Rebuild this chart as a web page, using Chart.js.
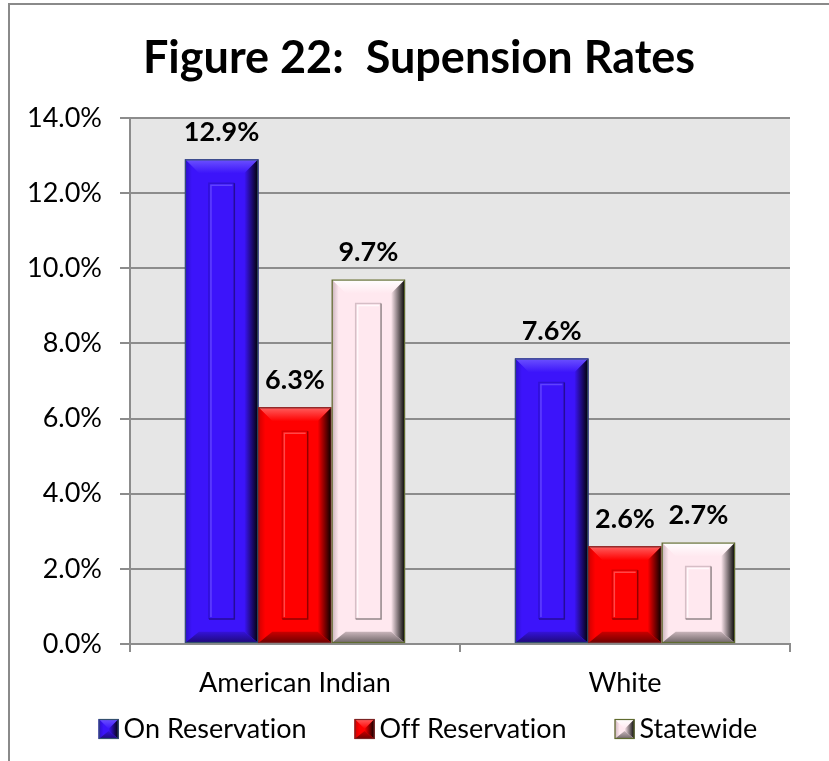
<!DOCTYPE html>
<html>
<head>
<meta charset="utf-8">
<script src="https://cdn.jsdelivr.net/npm/chart.js@4/dist/chart.umd.min.js"></script>
<style>
  html, body { margin: 0; padding: 0; background: #fff; }
  #wrap { width: 829px; height: 761px; }
</style>
</head>
<body>
<div id="wrap"><canvas id="chartBar"></canvas></div>
<script>
const categories = ['American Indian', 'White'];
const seriesNames = ['On Reservation', 'Off Reservation', 'Statewide'];
const onReservation = [12.9, 7.6];
const offReservation = [6.3, 2.6];
const statewide = [9.7, 2.7];
const yTicks = [0, 2, 4, 6, 8, 10, 12, 14];

const FONT = 'Lato';

// colours for the bevelled bars of each series
const looks = [
    { base: '#3c14fa', light: '#6c52ff', edge: '#2c10c8', mid: '#3412d8', dark: '#1e0a78', border: '#34506e' },
    { base: '#ff0000', light: '#ff6060', edge: '#d00000', mid: '#c80000', dark: '#6e0000', border: '#7a2424' },
    { base: '#ffe8ef', light: '#ffffff', edge: '#c8b0b8', mid: '#c8b4ba', dark: '#6e6466', border: '#5f6b2f' }
];

function bevel(ctx, l, t, r, b, look, s, inner) {
    ctx.save();
    ctx.fillStyle = look.base;
    ctx.fillRect(l, t, r - l, b - t);
    const sb = s * 0.8;
    // top
    let g = ctx.createLinearGradient(0, t, 0, t + s);
    g.addColorStop(0, look.light);
    g.addColorStop(1, look.base);
    ctx.fillStyle = g;
    ctx.beginPath();
    ctx.moveTo(l, t); ctx.lineTo(r, t); ctx.lineTo(r - s, t + s); ctx.lineTo(l + s, t + s);
    ctx.closePath(); ctx.fill();
    // left
    g = ctx.createLinearGradient(l, 0, l + s, 0);
    g.addColorStop(0, look.edge);
    g.addColorStop(0.5, look.base);
    g.addColorStop(1, look.base);
    ctx.fillStyle = g;
    ctx.beginPath();
    ctx.moveTo(l, t); ctx.lineTo(l + s, t + s); ctx.lineTo(l + s, b - sb); ctx.lineTo(l, b);
    ctx.closePath(); ctx.fill();
    // right, shaded to black
    g = ctx.createLinearGradient(r - s, 0, r, 0);
    g.addColorStop(0, look.base);
    g.addColorStop(1, '#000000');
    ctx.fillStyle = g;
    ctx.beginPath();
    ctx.moveTo(r, t); ctx.lineTo(r, b); ctx.lineTo(r - s, b - sb); ctx.lineTo(r - s, t + s);
    ctx.closePath(); ctx.fill();
    // bottom
    g = ctx.createLinearGradient(0, b - sb, 0, b);
    g.addColorStop(0, look.mid);
    g.addColorStop(1, look.dark);
    ctx.fillStyle = g;
    ctx.beginPath();
    ctx.moveTo(l, b); ctx.lineTo(r, b); ctx.lineTo(r - s, b - sb); ctx.lineTo(l + s, b - sb);
    ctx.closePath(); ctx.fill();
    if (inner) {
        const i = s + 10;
        if (r - l > 2 * i + 6 && b - t > 2 * i + 6) {
            ctx.lineWidth = 1.5;
            ctx.globalAlpha = 0.75;
            ctx.strokeStyle = look.edge;
            ctx.beginPath();
            ctx.moveTo(l + i, b - i); ctx.lineTo(l + i, t + i); ctx.lineTo(r - i, t + i);
            ctx.stroke();
            ctx.strokeStyle = look.dark;
            ctx.beginPath();
            ctx.moveTo(r - i, t + i); ctx.lineTo(r - i, b - i); ctx.lineTo(l + i, b - i);
            ctx.stroke();
            ctx.strokeStyle = look.light;
            ctx.beginPath();
            ctx.moveTo(l + i + 2, b - i - 2); ctx.lineTo(l + i + 2, t + i + 2); ctx.lineTo(r - i - 2, t + i + 2);
            ctx.stroke();
            ctx.globalAlpha = 1;
        }
    }
    ctx.lineWidth = 1.2;
    ctx.strokeStyle = look.border;
    ctx.strokeRect(l + 0.5, t + 0.5, r - l - 1, b - t - 1);
    ctx.restore();
}

const data = {
    labels: categories,
    datasets: [
        { label: seriesNames[0], data: onReservation, backgroundColor: looks[0].base },
        { label: seriesNames[1], data: offReservation, backgroundColor: looks[1].base },
        { label: seriesNames[2], data: statewide, backgroundColor: looks[2].base }
    ]
};

const bevelBars = {
    id: 'bevelBars',
    afterLayout(chart) {
        // the title in the original sits a little right of the canvas centre
        chart.titleBlock.left += 48;
    },
    beforeDraw(chart) {
        const ctx = chart.ctx;
        const a = chart.chartArea;
        ctx.save();
        ctx.fillStyle = '#e6e6e6';
        ctx.fillRect(a.left, a.top, a.right - a.left, a.bottom - a.top);
        // outer frame
        ctx.strokeStyle = '#8a8a8a';
        ctx.lineWidth = 2;
        ctx.beginPath();
        ctx.moveTo(9, chart.height); ctx.lineTo(9, 4); ctx.lineTo(chart.width, 4);
        ctx.stroke();
        ctx.restore();
    },
    afterDatasetsDraw(chart) {
        const ctx = chart.ctx;
        chart.data.datasets.forEach((ds, di) => {
            chart.getDatasetMeta(di).data.forEach((bar, i) => {
                const p = bar.getProps(['x', 'y', 'base', 'width'], true);
                const l = p.x - p.width / 2, r = p.x + p.width / 2;
                const s = Math.min(14, p.width / 4, (p.base - p.y) / 4);
                bevel(ctx, l, p.y, r, p.base, looks[di], s, true);
                ctx.save();
                ctx.fillStyle = '#000';
                ctx.font = 'bold 27px ' + FONT;
                ctx.textAlign = 'center';
                ctx.textBaseline = 'middle';
                ctx.fillText(ds.data[i].toFixed(1) + '%', p.x, p.y - 27);
                ctx.restore();
            });
        });
    },
    afterDraw(chart) {
        // legend row: bevelled box, text, wide gap
        const ctx = chart.ctx;
        const box = 20, gap = 5, spacing = 48, cy = 729;
        ctx.save();
        ctx.font = '27px ' + FONT;
        ctx.letterSpacing = '0.01px';
        const widths = chart.data.datasets.map(ds => ctx.measureText(ds.label).width);
        const total = widths.reduce((a, w) => a + box + gap + w, 0) + spacing * (widths.length - 1);
        let x = 428 - total / 2;
        ctx.textBaseline = 'middle';
        chart.data.datasets.forEach((ds, i) => {
            bevel(ctx, x, cy - box / 2, x + box, cy + box / 2, looks[i], box / 2, false);
            ctx.fillStyle = '#000';
            ctx.fillText(ds.label, x + box + gap, cy);
            x += box + gap + widths[i] + spacing;
        });
        ctx.restore();
    }
};

const configBarChart = {
    type: 'bar',
    data,
    options: {
        responsive: true,
        maintainAspectRatio: false,
        animation: false,
        layout: { padding: { top: 0, right: 39, bottom: 61, left: 0 } },
        datasets: { bar: { barPercentage: 1.0, categoryPercentage: 0.667 } },
        scales: {
            x: {
                afterFit: scale => { scale.height = 56; },
                grid: { offset: true, drawOnChartArea: false, color: '#8c8c8c', lineWidth: 2, tickLength: 8 },
                border: { color: '#8c8c8c', width: 2 },
                ticks: { color: '#000', font: { family: FONT, size: 27 }, padding: 15 }
            },
            y: {
                min: 0,
                max: 14,
                afterFit: scale => { scale.width = 130; },
                afterBuildTicks: scale => { scale.ticks = yTicks.map(v => ({ value: v })); },
                grid: { color: '#8c8c8c', lineWidth: 2, tickLength: 10 },
                border: { color: '#8c8c8c', width: 2 },
                ticks: {
                    color: '#000',
                    font: { family: FONT, size: 27 },
                    padding: 18,
                    callback: v => v.toFixed(1) + '%'
                }
            }
        },
        plugins: {
            title: {
                display: true,
                text: 'Figure 22:  Supension Rates',
                color: '#000',
                font: { family: FONT, size: 45, weight: 'bold' },
                padding: { top: 31, bottom: 33 }
            },
            legend: { display: false },
            tooltip: { enabled: false }
        }
    },
    plugins: [bevelBars]
};

var chartBar = new Chart(
    document.getElementById('chartBar'),
    configBarChart
);
</script>
</body>
</html>
